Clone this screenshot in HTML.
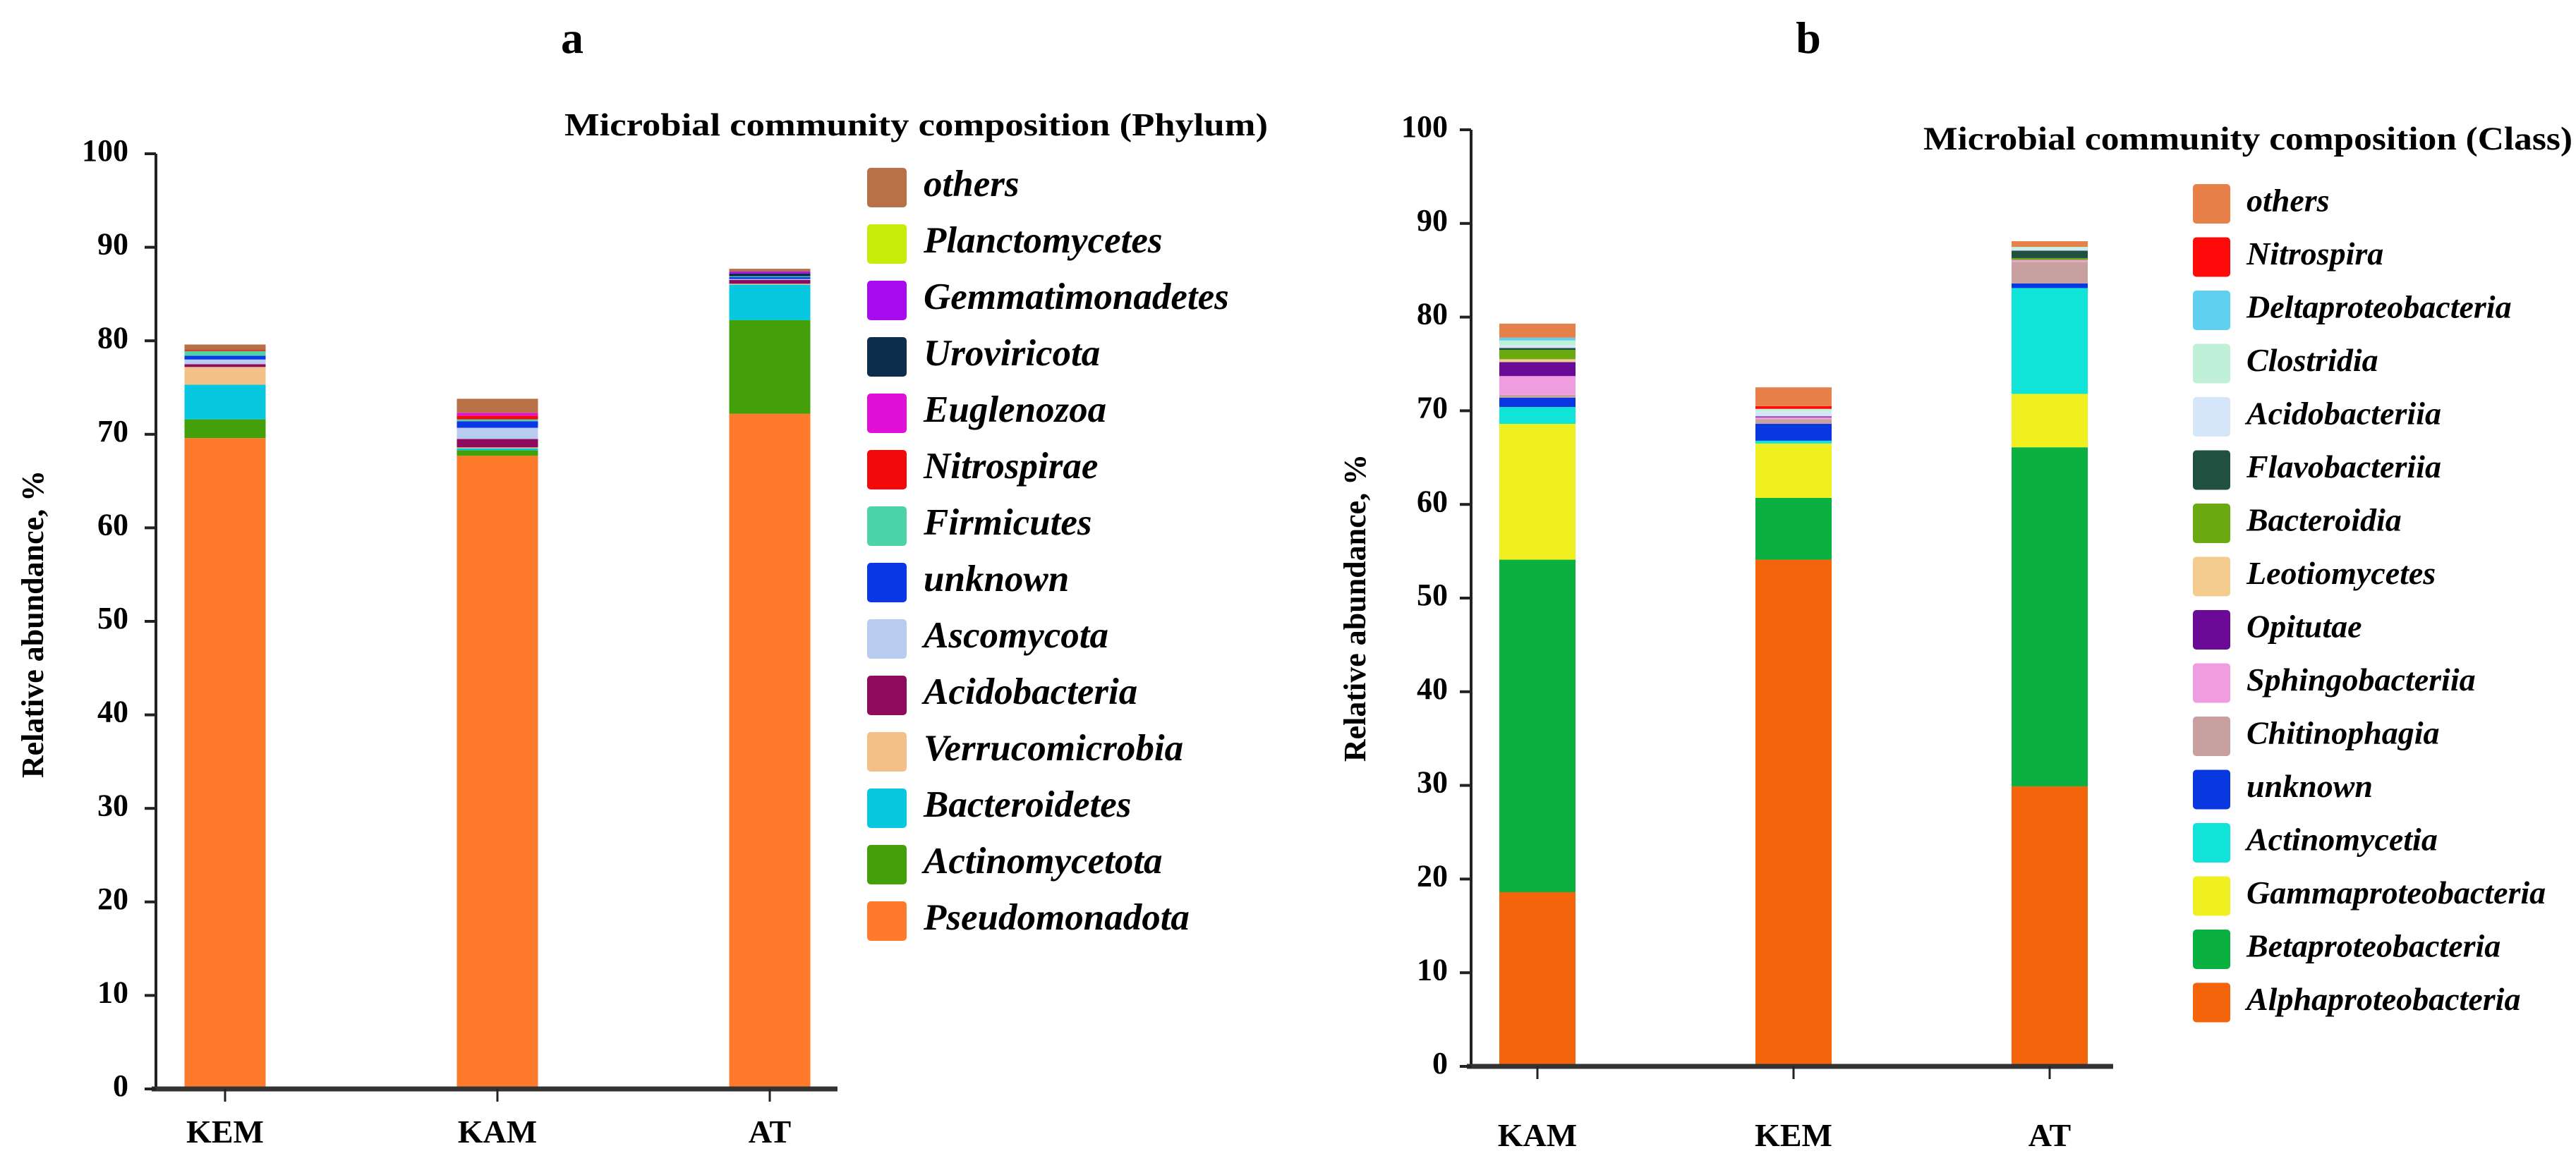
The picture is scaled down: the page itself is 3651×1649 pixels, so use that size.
<!DOCTYPE html>
<html><head><meta charset="utf-8"><style>
html,body{margin:0;padding:0;background:#fff}
svg{display:block}
text{font-family:"Liberation Serif",serif;font-weight:bold;fill:#000}
</style></head><body>
<svg id="chart" width="3651" height="1649" viewBox="0 0 3651 1649" xmlns="http://www.w3.org/2000/svg">
<text x="811" y="75" font-size="64" text-anchor="middle">a</text>
<text x="2563" y="75" font-size="64" text-anchor="middle">b</text>
<text x="800" y="192" font-size="46" textLength="997" lengthAdjust="spacingAndGlyphs">Microbial community composition (Phylum)</text>
<text x="2726" y="212" font-size="47" textLength="920" lengthAdjust="spacingAndGlyphs">Microbial community composition (Class)</text>
<text transform="translate(51,885) rotate(-90)" font-size="44" text-anchor="middle" dominant-baseline="middle">Relative abundance, %</text>
<text transform="translate(1925,862) rotate(-90)" font-size="44" text-anchor="middle" dominant-baseline="middle">Relative abundance, %</text>
<g id="ga"></g><g id="gb"></g>
</svg>
<script>
const NS="http://www.w3.org/2000/svg";
// Panel a data (bottom to top)
const catsA=["KEM","KAM","AT"];
const taxaA=["Pseudomonadota","Actinomycetota","Bacteroidetes","Verrucomicrobia","Acidobacteria","Ascomycota","unknown","Firmicutes","Nitrospirae","Euglenozoa","Uroviricota","Gemmatimonadetes","Planctomycetes","others"];
const colorsA=["#FF7A2A","#44A00A","#08C8E0","#F4C08A","#8E0A5C","#B8CCF0","#0A38E6","#4CD4A8","#F00A0A","#E010D8","#0C2D4B","#A80CEE","#C8EC0A","#B87046"];
const valsKEM_A=[69.6,2.0,3.7,1.9,0.3,0.5,0.4,0.5,0.1,0,0,0,0,0.6];
const valsKAM_A=[67.7,0.6,0.2,0.1,0.9,1.2,0.7,0.2,0.4,0.3,0,0,0,1.5];
const valsAT_A=[72.2,10.0,3.8,0.1,0.4,0.1,0.2,0.1,0,0,0.3,0.2,0,0.3];
const seriesA=[valsKEM_A,valsKAM_A,valsAT_A];
// Panel b data
const catsB=["KAM","KEM","AT"];
const taxaB=["Alphaproteobacteria","Betaproteobacteria","Gammaproteobacteria","Actinomycetia","unknown","Chitinophagia","Sphingobacteriia","Opitutae","Leotiomycetes","Bacteroidia","Flavobacteriia","Acidobacteriia","Clostridia","Deltaproteobacteria","Nitrospira","others"];
const colorsB=["#F4640A","#0AB040","#F0F020","#10E4D8","#0A38E0","#C8A0A0","#F09CE0","#6A0A96","#F4CC90","#6AAA10","#1F5040","#D4E6F8","#C0F0D8","#60D0F0","#FF0A0A","#E8804A"];
const valsKAM_B=[18.6,35.5,14.5,1.8,1.0,0.3,2.0,1.5,0.3,1.0,0.2,0.3,0.5,0.3,0,1.5];
const valsKEM_B=[54.1,6.6,5.8,0.3,1.8,0.5,0.2,0.1,0,0,0,0.5,0.3,0,0.3,2.0];
const valsAT_B=[29.9,36.2,5.7,11.3,0.5,2.3,0.2,0,0,0.2,0.8,0.2,0.2,0,0,0.6];
const seriesB=[valsKAM_B,valsKEM_B,valsAT_B];
const ticks=[0,10,20,30,40,50,60,70,80,90,100];

function mk(tag,attrs,parent,txt){const e=document.createElementNS(NS,tag);for(const k in attrs)e.setAttribute(k,attrs[k]);if(txt!==undefined)e.textContent=txt;parent.appendChild(e);return e;}

function panel(g,cfg,cats,taxa,colors,series,tag){
  const y=v=>cfg.y0-(cfg.y0-cfg.y100)*v/100;
  const x=i=>cfg.c0+i*cfg.step;
  series.forEach((vals,i)=>{
    let acc=0;
    vals.forEach((v,j)=>{
      if(v<=0)return;
      const r=mk("rect",{x:x(i)-cfg.bw/2,y:y(acc+v),width:cfg.bw,height:y(acc)-y(acc+v),fill:colors[j]},g);
      
      
      acc+=v;
    });
  });
  const ya=mk("line",{x1:cfg.ax,y1:y(100),x2:cfg.ax,y2:cfg.y0,stroke:"#222","stroke-width":4},g);
  
  
  const xa=mk("line",{x1:cfg.ax-6,y1:cfg.y0,x2:cfg.xend,y2:cfg.y0,stroke:"#333","stroke-width":7},g);
  
  
  ticks.forEach(t=>{
    mk("line",{x1:cfg.ax-16,y1:y(t),x2:cfg.ax,y2:y(t),stroke:"#222","stroke-width":4},g);
    const tl=mk("text",{x:cfg.tickX,y:y(t),"font-size":44,"text-anchor":"end","dominant-baseline":"middle"},g,String(t));
    
    
  });
  cats.forEach((c,i)=>{
    mk("line",{x1:x(i),y1:cfg.y0,x2:x(i),y2:cfg.y0+18,stroke:"#222","stroke-width":3},g);
    const cl=mk("text",{x:x(i),y:cfg.labY,"font-size":46,"text-anchor":"middle"},g,c);
    
    
  });
  const n=taxa.length;
  for(let k=0;k<n;k++){
    const j=n-1-k;
    const top=cfg.legTop+k*cfg.legStep;
    const s=mk("rect",{x:cfg.legX,y:top,width:cfg.sw,height:cfg.sh,rx:5,fill:colors[j]},g);
    
    
    const t=mk("text",{x:cfg.legTX,y:top+cfg.sh/2,"font-size":cfg.lfs,"font-style":"italic","dominant-baseline":"middle"},g,taxa[j]);
    
    
  }
}
panel(document.getElementById("ga"),{y0:1544,y100:218,c0:319,step:386,bw:115,ax:221,xend:1187,tickX:182,labY:1620,legX:1229,legTX:1309,legTop:238,legStep:80,sw:56,sh:56,lfs:53},catsA,taxaA,colorsA,seriesA,"a");
panel(document.getElementById("gb"),{y0:1512,y100:184,c0:2179,step:363,bw:108,ax:2085,xend:2995,tickX:2052,labY:1625,legX:3108,legTX:3184,legTop:261,legStep:75.5,sw:53,sh:56,lfs:46},catsB,taxaB,colorsB,seriesB,"b");
</script>
</body></html>
